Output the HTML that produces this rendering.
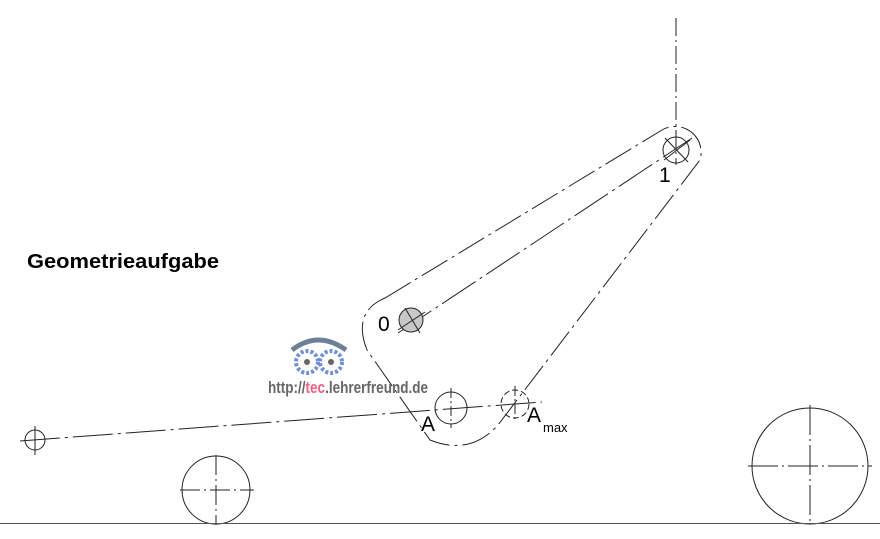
<!DOCTYPE html>
<html><head><meta charset="utf-8"><style>
body{margin:0;background:#fff;}
svg{display:block;font-family:"Liberation Sans",sans-serif;}
</style></head><body>
<svg width="880" height="539" viewBox="0 0 880 539">
<g fill="none" stroke="#222" stroke-width="1">
<line x1="676" y1="18" x2="676" y2="165" stroke-dasharray="18,4,2,4"/>
<line x1="398" y1="333" x2="692" y2="138" stroke-dasharray="40,5,3,5"/>
<path d="M385,298 L662,130 A26,26 0 0 1 700,160 L498,425 Q470,456 430,440 L367,350 Q352,312 385,298 Z" stroke-dasharray="30,5,3,5"/>
<circle cx="676" cy="150" r="13"/>
<line x1="665" y1="138" x2="688" y2="162"/><line x1="664" y1="160" x2="690" y2="140"/>
<circle cx="411" cy="320" r="12" fill="#c8c8c8"/>
<line x1="398" y1="330" x2="425" y2="312"/><line x1="405" y1="308" x2="420" y2="333"/>
<line x1="20" y1="441" x2="542" y2="402" stroke-dasharray="40,5,3,5"/>
<circle cx="35" cy="440" r="10"/>
<line x1="35" y1="426" x2="35" y2="455"/>
<circle cx="451" cy="408" r="16"/>
<line x1="451" y1="388" x2="451" y2="428" stroke-dasharray="10,3,2,3"/>
<circle cx="515" cy="404" r="14" stroke-dasharray="6,3"/>
<line x1="515" y1="386" x2="515" y2="422" stroke-dasharray="10,3,2,3"/>
<circle cx="216" cy="490" r="34"/>
<line x1="180" y1="490" x2="254" y2="490" stroke-dasharray="20,4,2,4"/>
<line x1="216" y1="455" x2="216" y2="525" stroke-dasharray="20,4,2,4"/>
<circle cx="810" cy="466" r="58"/>
<line x1="748" y1="466" x2="872" y2="466" stroke-dasharray="30,4,2,4"/>
<line x1="810" y1="405" x2="810" y2="525" stroke-dasharray="30,4,2,4"/>
<line x1="0" y1="523.5" x2="880" y2="523.5" stroke="#555"/>
</g>
<text x="27" y="268" font-size="20" font-weight="bold" fill="#000" textLength="192" lengthAdjust="spacingAndGlyphs">Geometrieaufgabe</text>
<text x="378" y="331" font-size="21" fill="#000">0</text>
<text x="659" y="182" font-size="21" fill="#000">1</text>
<text x="421" y="431" font-size="21" fill="#000">A</text>
<text x="527" y="422" font-size="21" fill="#000">A</text>
<text x="543" y="432" font-size="13" fill="#000">max</text>
<g>
<path d="M292,350 Q318,330 346,350" fill="none" stroke="#6e7f99" stroke-width="5"/>
<circle cx="307" cy="362" r="11" fill="none" stroke="#6f8fd8" stroke-width="4" stroke-dasharray="3,2"/>
<circle cx="331" cy="362" r="11" fill="none" stroke="#6f8fd8" stroke-width="4" stroke-dasharray="3,2"/>
<circle cx="307" cy="362" r="3" fill="#666"/><circle cx="331" cy="362" r="3" fill="#666"/>
<text x="268" y="393" font-size="17" font-weight="bold" fill="#666" textLength="160" lengthAdjust="spacingAndGlyphs">http://<tspan fill="#f06080">tec</tspan>.lehrerfreund.de</text>
</g>
</svg>
</body></html>
